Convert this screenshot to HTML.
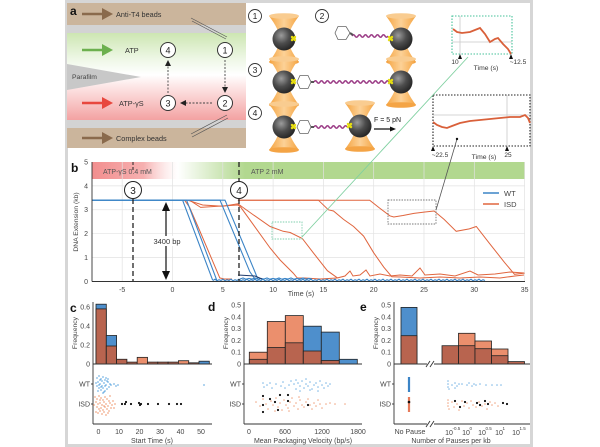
<!DOCTYPE html>
<html><head><meta charset="utf-8"><style>
html,body{margin:0;padding:0;background:#fff;}
svg{display:block;}
text{font-family:"Liberation Sans",Arial,sans-serif;}
</style></head><body>
<svg width="600" height="447" viewBox="0 0 600 447">
<defs>
<linearGradient id="mid" x1="0" y1="0" x2="0" y2="1">
<stop offset="0" stop-color="#cde6b2"/><stop offset="0.3" stop-color="#eef7e6"/><stop offset="0.48" stop-color="#ffffff"/><stop offset="0.6" stop-color="#fde9e9"/><stop offset="1" stop-color="#f3a2a2"/>
</linearGradient>
<linearGradient id="pinkb" gradientUnits="userSpaceOnUse" x1="92" x2="178" y1="0" y2="0">
<stop offset="0" stop-color="#f28e8e"/><stop offset="0.6" stop-color="#f6b0b0"/><stop offset="1" stop-color="#fbd8d8" stop-opacity="0"/>
</linearGradient>
<linearGradient id="greenb" gradientUnits="userSpaceOnUse" x1="178" x2="245" y1="0" y2="0">
<stop offset="0" stop-color="#b2d88f" stop-opacity="0"/><stop offset="1" stop-color="#b2d88f" stop-opacity="1"/>
</linearGradient>
<radialGradient id="bead" cx="0.38" cy="0.35" r="0.7">
<stop offset="0" stop-color="#9c9c9c"/><stop offset="0.5" stop-color="#4d4d4d"/><stop offset="1" stop-color="#222"/>
</radialGradient>
<linearGradient id="org" x1="0" x2="1" y1="0" y2="0">
<stop offset="0" stop-color="#f5a440"/><stop offset="0.5" stop-color="#fcd197"/><stop offset="1" stop-color="#f5a440"/>
</linearGradient>
<g id="trap">
<path d="M-15 -23 Q-5 -10 -4 0 Q-5 10 -15 23 L15 23 Q5 10 4 0 Q5 -10 15 -23 Z" fill="url(#org)"/>
<ellipse cx="0" cy="-23" rx="15" ry="2.8" fill="#f9cc90"/>
<ellipse cx="0" cy="23" rx="15" ry="2.8" fill="#f4a445"/>
<circle cx="0" cy="0" r="11.5" fill="url(#bead)"/>
</g>
</defs>

<!-- figure frame -->
<rect x="66.5" y="1.5" width="465" height="444" fill="none" stroke="#d6d6d6" stroke-width="3"/>

<!-- ===== Panel a left schematic ===== -->
<rect x="67" y="3" width="179" height="22" fill="#cbb59c"/>
<rect x="67" y="25" width="179" height="8" fill="#d3d3d3"/>
<rect x="67" y="33" width="179" height="87" fill="url(#mid)"/>
<rect x="67" y="120" width="179" height="8" fill="#d3d3d3"/>
<rect x="67" y="128" width="179" height="20" fill="#cbb59c"/>
<polygon points="67,64 141,77 67,90" fill="#c8c8c8"/>
<text x="72" y="79" font-size="6.8" fill="#444">Parafilm</text>
<text x="70" y="15" font-size="12" font-weight="bold" fill="#111">a</text>
<g stroke-width="2.4">
<line x1="82" y1="14" x2="105" y2="14" stroke="#8a6a4c"/>
<line x1="82" y1="50" x2="105" y2="50" stroke="#6cb04e"/>
<line x1="82" y1="103" x2="105" y2="103" stroke="#e8473e"/>
<line x1="82" y1="138" x2="105" y2="138" stroke="#8a6a4c"/>
</g>
<polygon points="102,8 113,14 102,20" fill="#8a6a4c"/>
<polygon points="102,44 113,50 102,56" fill="#6cb04e"/>
<polygon points="102,97 113,103 102,109" fill="#e8473e"/>
<polygon points="102,132 113,138 102,144" fill="#8a6a4c"/>
<text x="116" y="17" font-size="7.3" fill="#333">Anti-T4 beads</text>
<text x="125" y="53" font-size="7.3" fill="#333">ATP</text>
<text x="119" y="106" font-size="7.3" fill="#333">ATP-γS</text>
<text x="116" y="141" font-size="7.3" fill="#333">Complex beads</text>
<g stroke="#555" stroke-width="0.7">
<line x1="191" y1="18" x2="227" y2="37"/><line x1="192" y1="21" x2="226" y2="39"/>
<line x1="191" y1="134" x2="227" y2="115"/><line x1="192" y1="137" x2="228" y2="118"/>
</g>
<g fill="#fff" stroke="#333" stroke-width="1">
<circle cx="168" cy="50" r="7.5"/><circle cx="225" cy="50" r="7.5"/>
<circle cx="168" cy="103" r="7.5"/><circle cx="225" cy="103" r="7.5"/>
</g>
<g font-size="9" text-anchor="middle" fill="#222">
<text x="168" y="53.5">4</text><text x="225" y="53.5">1</text>
<text x="168" y="106.5">3</text><text x="225" y="106.5">2</text>
</g>
<g stroke="#444" stroke-width="0.9" stroke-dasharray="2,1.5">
<line x1="225" y1="60" x2="225" y2="88"/>
<line x1="212" y1="103" x2="186" y2="103"/>
<line x1="168" y1="93" x2="168" y2="66"/>
</g>
<polygon points="222,87 228,87 225,93" fill="#222"/>
<polygon points="186,100 186,106 180,103" fill="#222"/>
<polygon points="165,66 171,66 168,60" fill="#222"/>

<!-- ===== Panel a right schematic ===== -->
<use href="#trap" x="284" y="39"/>
<use href="#trap" x="401" y="39"/>
<use href="#trap" x="284" y="82"/>
<use href="#trap" x="401" y="82"/>
<use href="#trap" x="284" y="127"/>
<use href="#trap" x="360" y="126"/>
<g fill="none" stroke="#9b3c86" stroke-width="1.6">
<path d="M352 36 q1.5 -2.5 3 0 t3 0 t3 0 t3 0 t3 0 t3 0 t3 0 t3 0 t3 0 t3 0 t3 0 t3 0"/>
<path d="M314 82 q1.5 -2.5 3 0 t3 0 t3 0 t3 0 t3 0 t3 0 t3 0 t3 0 t3 0 t3 0 t3 0 t3 0 t3 0 t3 0 t3 0 t3 0 t3 0 t3 0 t3 0 t3 0 t3 0 t3 0 t3 0 t3 0 t3 0"/>
<path d="M314 127 q1.5 -2.5 3 0 t3 0 t3 0 t3 0 t3 0 t3 0 t3 0 t3 0 t3 0 t3 0 t3 0"/>
</g>
<g fill="#fff" stroke="#666" stroke-width="0.8">
<polygon points="335,33 338,26.5 346,26.5 350,33 346,39.5 338,39.5"/>
<polygon points="297,82 300,75.5 308,75.5 311,82 308,88.5 300,88.5"/>
<polygon points="297,127 300,120.5 308,120.5 311,127 308,133.5 300,133.5"/>
</g>
<g stroke="#555" stroke-width="2">
<line x1="350" y1="33" x2="353" y2="35"/><line x1="311" y1="82" x2="314" y2="82"/><line x1="311" y1="127" x2="314" y2="127"/>
</g>
<g stroke="#e6dd10" stroke-width="2.4" stroke-linecap="round">
<path d="M292 37l3 3M295 37l-3 3"/>
<path d="M389 37l3 3M392 37l-3 3"/>
<path d="M292 80l3 3M295 80l-3 3"/>
<path d="M389 80l3 3M392 80l-3 3"/>
<path d="M292 125l3 3M295 125l-3 3"/>
<path d="M348 124l3 3M351 124l-3 3"/>
</g>
<g fill="#fff" stroke="#333" stroke-width="0.9">
<circle cx="255" cy="16" r="6.5"/><circle cx="322" cy="16" r="6.5"/>
<circle cx="255" cy="70" r="6.5"/><circle cx="255" cy="113" r="6.5"/>
</g>
<g font-size="8.5" text-anchor="middle" fill="#222">
<text x="255" y="19">1</text><text x="322" y="19">2</text>
<text x="255" y="73">3</text><text x="255" y="116">4</text>
</g>
<text x="374" y="122" font-size="7" fill="#222">F = 5 pN</text>
<line x1="374" y1="129" x2="391" y2="129" stroke="#111" stroke-width="1.2"/>
<polygon points="390,126.5 396,129 390,131.5" fill="#111"/>

<!-- insets -->
<rect x="452" y="16" width="60" height="38" fill="none" stroke="#46c29a" stroke-width="1.1" stroke-dasharray="1.5,1.5"/>
<line x1="452" y1="42" x2="512" y2="42" stroke="#c8c8c8" stroke-width="0.8"/>
<line x1="460" y1="16" x2="460" y2="54" stroke="#c8c8c8" stroke-width="0.8"/>
<polyline points="453,29 457,32 462,33 470,32 480,28 485,34 490,42 495,39 498,38 503,44 508,49 511,54" fill="none" stroke="#d9603a" stroke-width="1.8"/>
<g fill="#111"><polygon points="458,59 462,59 460,54"/><polygon points="509,59 513,59 511,54"/></g>
<text x="455" y="64" font-size="6.5" text-anchor="middle" fill="#333">10</text>
<text x="518" y="64" font-size="6.5" text-anchor="middle" fill="#333">~12.5</text>
<text x="486" y="70" font-size="6.8" text-anchor="middle" fill="#333">Time (s)</text>

<rect x="433" y="95" width="97" height="51" fill="none" stroke="#222" stroke-width="1.1" stroke-dasharray="1.5,1.5"/>
<line x1="433" y1="115" x2="530" y2="115" stroke="#c8c8c8" stroke-width="0.8"/>
<line x1="507" y1="95" x2="507" y2="146" stroke="#c8c8c8" stroke-width="0.8"/>
<polyline points="433,122 437,125 442,127 447,128 452,126 460,123 470,121 480,120 490,119 500,118 510,117 520,117 525,115 528,118 530,123" fill="none" stroke="#d9603a" stroke-width="1.8"/>
<g fill="#111"><polygon points="431,151 435,151 433,146"/><polygon points="505,151 509,151 507,146"/></g>
<text x="440" y="157" font-size="6.5" text-anchor="middle" fill="#333">~22.5</text>
<text x="484" y="159" font-size="6.8" text-anchor="middle" fill="#333">Time (s)</text>
<text x="508" y="157" font-size="6.5" text-anchor="middle" fill="#333">25</text>

<!-- ===== Panel b ===== -->
<text x="71" y="172" font-size="12" font-weight="bold" fill="#111">b</text>
<rect x="92" y="162" width="86" height="17" fill="url(#pinkb)"/>
<rect x="178" y="162" width="67" height="17" fill="url(#greenb)"/>
<rect x="245" y="162" width="280" height="17" fill="#b2d88f"/>
<g stroke="#e2e2e2" stroke-width="0.7">
<line x1="122.2" y1="162" x2="122.2" y2="281.5"/><line x1="172.5" y1="162" x2="172.5" y2="281.5"/>
<line x1="222.8" y1="162" x2="222.8" y2="281.5"/><line x1="273.1" y1="162" x2="273.1" y2="281.5"/>
<line x1="323.4" y1="162" x2="323.4" y2="281.5"/><line x1="373.7" y1="162" x2="373.7" y2="281.5"/>
<line x1="424" y1="162" x2="424" y2="281.5"/><line x1="474.3" y1="162" x2="474.3" y2="281.5"/>
<line x1="524.6" y1="162" x2="524.6" y2="281.5"/>
<line x1="92" y1="257.6" x2="525" y2="257.6"/><line x1="92" y1="233.7" x2="525" y2="233.7"/>
<line x1="92" y1="209.8" x2="525" y2="209.8"/><line x1="92" y1="185.9" x2="525" y2="185.9"/>
</g>
<text x="103" y="174" font-size="7" fill="#555">ATP-γS 0.4 mM</text>
<text x="251" y="174" font-size="7" fill="#555">ATP 2 mM</text>

<g fill="none" stroke="#e0653e" stroke-width="1">
<polyline points="184.6,200.2 189.6,207.4 197.7,226 219.8,277.9 224,279 232,279"/>
<polyline points="189.6,200.2 200.7,207.4 217.8,206.2 237.9,205 240.9,207.4 270.1,248 280.1,260 293.2,273.1 297.2,277.9 305,278 320,279 337,278"/>
<polyline points="187.6,200.2 202.7,205 222.8,206.2 237.9,203.8 242.9,207.4 253,214.6 270.1,226.5 283.2,231.3 290.2,232.5 302.3,238.5 313.3,252.8 327.4,270.7 337.5,277.9 345,276 350,271 353,276 360,275 366,270 370,276 380,274 390,276 400,275 412,276 420,268 425,275 440,274 455,276 470,271 478,275 495,274 510,272 524,273"/>
<polyline points="237.9,200.2 318.4,200.2 328.4,209.8 333.5,211 343.5,219.4 353.6,226.5 363.6,236.1 373.7,252.8 383.8,267.2 391.8,276.7 400,277 420,278 440,277 460,278 480,277 500,278 515,276 524,275"/>
<polyline points="237.9,200.2 369.7,200.2 378.7,207.4 389.8,215.8 393.8,217 403,215.5 413.9,213.4 425,212 434.1,211 444.1,219.4 456.2,231.3 469.3,228.9 476.3,226.5 489.4,243.3 504.5,262.4 514.5,274.3 524.6,273.1"/>
</g>
<g fill="none" stroke="#3b84c6" stroke-width="1.1">
<polyline points="92,200.2 182.6,200.2 212.7,280.3"/>
<polyline points="92,200.2 186.6,200.2 216.8,280.3"/>
<polyline points="92,200.2 220,200.2 249.9,271.9 255,279.1"/>
<polyline points="92,200.2 225,200.2 255,272 258,279.6"/>
<path d="M213 280.5 l2 -1.3 l2 1.6 l2 -1.1 l2 0.8 l2 -1.3 l2 1.6 l2 -1.1 l2 0.8 l2 -1.3 l2 1.6 l2 -1.1 l2 0.8 l2 -1.3 l2 1.6 l2 -1.1 l2 0.8 l2 -1.3 l2 1.6 l2 -1.1 l2 0.8 l2 -1.3 l2 1.6 l2 -1.1 l2 0.8 l2 -1.3 l2 1.6 l2 -1.1 l2 0.8 l2 -1.3 l2 1.6 l2 -1.1 l2 0.8 l2 -1.3 l2 1.6 l2 -1.1 l2 0.8 l2 -1.3 l2 1.6 l2 -1.1 l2 0.8 l2 -1.3 l2 1.6 l2 -1.1 l2 0.8 l2 -1.3 l2 1.6 l2 -1.1 l2 0.8 l2 -1.3 l2 1.6 l2 -1.1 l2 0.8 l2 -1.3 l2 1.6 l2 -1.1 l2 0.8 l2 -1.3 l2 1.6 l2 -1.1 l2 0.8 l2 -1.3 l2 1.6 l2 -1.1 l2 0.8 l2 -1.3 l2 1.6 l2 -1.1 l2 0.8 l2 -1.3 l2 1.6 l2 -1.1 l2 0.8 l2 -1.3 l2 1.6 l2 -1.1 l2 0.8 l2 -1.3 l2 1.6 l2 -1.1 l2 0.8 l2 -1.3 l2 1.6 l2 -1.1 l2 0.8 l2 -1.3 l2 1.6 l2 -1.1 l2 0.8 l2 -1.3 l2 1.6 l2 -1.1 l2 0.8 l2 -1.3 l2 1.6 l2 -1.1 l2 0.8 l2 -1.3 l2 1.6 l2 -1.1 l2 0.8 l2 -1.3 l2 1.6 l2 -1.1 l2 0.8 l2 -1.3 l2 1.6 l2 -1.1 l2 0.8 l2 -1.3 l2 1.6 l2 -1.1 l2 0.8 l2 -1.3 l2 1.6 l2 -1.1 l2 0.8 l2 -1.3 l2 1.6 l2 -1.1 l2 0.8 l2 -1.3 l2 1.6 l2 -1.1 l2 0.8 l2 -1.3 l2 1.6 l2 -1.1 l2 0.8 l2 -1.3 l2 1.6 l2 -1.1 l2 0.8 l2 -1.3 l2 1.6 l2 -1.1 l2 0.8"/>
<path d="M240 279 l3 -1 l3 1.2 l3 -0.8 l3 0.6 l3 -1 l3 1.2 l3 -0.8 l3 0.6 l3 -1 l3 1.2 l3 -0.8 l3 0.6 l3 -1 l3 1.2 l3 -0.8 l3 0.6 l3 -1 l3 1.2 l3 -0.8 l3 0.6 l3 -1 l3 1.2 l3 -0.8 l3 0.6"/>
</g>
<polyline points="238,275 255,276 262,279" fill="none" stroke="#1f3a6c" stroke-width="1"/>

<g stroke="#222" stroke-width="1.3" stroke-dasharray="5,3">
<line x1="133" y1="199" x2="133" y2="281"/><line x1="239" y1="162" x2="239" y2="181"/><line x1="239" y1="199" x2="239" y2="281"/>
</g>
<line x1="133" y1="162" x2="133" y2="170" stroke="#222" stroke-width="1" stroke-dasharray="3,2"/>
<g fill="#fff" stroke="#222" stroke-width="1"><circle cx="133" cy="190" r="8.5"/><circle cx="239" cy="190" r="8.5"/></g>
<text x="133" y="194" font-size="10" text-anchor="middle" fill="#222">3</text>
<text x="239" y="194" font-size="10" text-anchor="middle" fill="#222">4</text>
<line x1="166" y1="208" x2="166" y2="274" stroke="#111" stroke-width="1.2"/>
<polygon points="166,202 162,211 170,211" fill="#111"/>
<polygon points="166,280 162,271 170,271" fill="#111"/>
<rect x="150" y="236" width="34" height="10" fill="#fff"/>
<text x="167" y="244" font-size="7.5" text-anchor="middle" fill="#333">3400 bp</text>
<rect x="272" y="222" width="30" height="17" fill="none" stroke="#7fcfae" stroke-width="0.9" stroke-dasharray="1.5,1.2"/>
<line x1="302" y1="237" x2="468" y2="57" stroke="#7fd0a0" stroke-width="0.9"/>
<rect x="388" y="200" width="48" height="24" fill="none" stroke="#777" stroke-width="0.9" stroke-dasharray="1.5,1.2"/>
<line x1="436" y1="210" x2="457" y2="139" stroke="#555" stroke-width="0.8"/>
<circle cx="457" cy="139" r="1.2" fill="#111"/>
<line x1="483" y1="193" x2="499" y2="193" stroke="#3b84c6" stroke-width="1.5"/>
<text x="504" y="196" font-size="7.5" fill="#444">WT</text>
<line x1="483" y1="204" x2="499" y2="204" stroke="#e0653e" stroke-width="1.5"/>
<text x="504" y="207" font-size="7.5" fill="#444">ISD</text>
<g stroke="#333" stroke-width="0.9">
<line x1="92" y1="162" x2="92" y2="281.5"/><line x1="92" y1="281.5" x2="525" y2="281.5"/>
</g>
<g font-size="7" fill="#444" text-anchor="end">
<text x="88" y="284">0</text><text x="88" y="260">1</text><text x="88" y="236">2</text>
<text x="88" y="212">3</text><text x="88" y="188.5">4</text><text x="88" y="164.5">5</text>
</g>
<g font-size="7" fill="#444" text-anchor="middle">
<text x="122.2" y="292">-5</text><text x="172.5" y="292">0</text><text x="222.8" y="292">5</text>
<text x="273.1" y="292">10</text><text x="323.4" y="292">15</text><text x="373.7" y="292">20</text>
<text x="424" y="292">25</text><text x="474.3" y="292">30</text><text x="524.6" y="292">35</text>
<text x="301" y="296" font-size="7.3">Time (s)</text>
</g>
<text transform="translate(78,222) rotate(-90)" font-size="6.8" text-anchor="middle" fill="#444">DNA Extension (kb)</text>

<!-- ===== Panel c ===== -->
<text x="70" y="312" font-size="12" font-weight="bold" fill="#111">c</text>
<g stroke="#222" stroke-width="0.8">
<rect x="96" y="304.2" width="10.3" height="59.8" fill="#4e8fcc"/><rect x="96" y="308.9" width="10.3" height="55.1" fill="#b8644f"/>
<rect x="106.3" y="335.5" width="10.3" height="28.5" fill="#4e8fcc"/><rect x="106.3" y="346" width="10.3" height="18" fill="#b8644f"/>
<rect x="116.6" y="359.25" width="10.3" height="4.75" fill="#b8644f"/>
<rect x="126.9" y="362.1" width="10.3" height="1.9" fill="#b8644f"/>
<rect x="137.2" y="357.35" width="10.3" height="6.65" fill="#eb8f6d"/>
<rect x="147.5" y="362.1" width="10.3" height="1.9" fill="#b8644f"/>
<rect x="157.8" y="362.1" width="10.3" height="1.9" fill="#b8644f"/>
<rect x="168.1" y="362.1" width="10.3" height="1.9" fill="#b8644f"/>
<rect x="178.4" y="360.7" width="10.3" height="3.3" fill="#eb8f6d"/>
<rect x="188.7" y="362.8" width="10.3" height="1.2" fill="#b8644f"/>
<rect x="199" y="361.2" width="10.3" height="2.8" fill="#4e8fcc"/>
</g>
<g stroke="#333" stroke-width="0.9">
<line x1="93" y1="302" x2="93" y2="424"/><line x1="93" y1="364" x2="212" y2="364"/><line x1="93" y1="424" x2="212" y2="424"/>
<line x1="91" y1="384" x2="93" y2="384"/><line x1="91" y1="404" x2="93" y2="404"/>
</g>
<g font-size="7" fill="#444" text-anchor="end">
<text x="90" y="366.5">0</text><text x="90" y="347.5">0.2</text><text x="90" y="328.5">0.4</text><text x="90" y="309.5">0.6</text>
<text x="90" y="386.5">WT</text><text x="90" y="406.5">ISD</text>
</g>
<g font-size="7" fill="#444" text-anchor="middle">
<text x="98.5" y="434">0</text><text x="119" y="434">10</text><text x="139.5" y="434">20</text>
<text x="160" y="434">30</text><text x="180.5" y="434">40</text><text x="201" y="434">50</text>
<text x="152" y="443">Start Time (s)</text>
</g>
<text transform="translate(77,333) rotate(-90)" font-size="6.8" text-anchor="middle" fill="#444">Frequency</text>
<path stroke="#72b2e4" stroke-width="1.7" stroke-linecap="round" fill="none" d="M97 378h0M99 376h0M101 379h0M103 377h0M105 380h0M98 382h0M100 384h0M102 386h0M104 383h0M106 385h0M108 382h0M99 388h0M101 390h0M103 388h0M105 391h0M107 389h0M97 386h0M109 387h0M102 381h0M104 392h0M100 380h0M106 378h0M98 391h0M103 393h0M110 384h0M96 383h0M101 387h0M105 386h0M107 381h0M99 385h0M108 379h0M111 385h0M114 384h0M116 386h0M118 385h0M204 385h0"/>
<path stroke="#f0a582" stroke-width="1.7" stroke-linecap="round" fill="none" d="M95 397h0M97 399h0M99 396h0M101 398h0M103 400h0M105 397h0M107 399h0M109 401h0M96 402h0M98 404h0M100 403h0M102 405h0M104 402h0M106 404h0M108 406h0M110 403h0M112 405h0M97 407h0M99 409h0M101 408h0M103 410h0M105 407h0M107 409h0M109 411h0M111 408h0M96 412h0M98 413h0M100 411h0M102 414h0M104 412h0M106 415h0M108 413h0M113 401h0M115 404h0M114 408h0M110 396h0M100 400h0M94 405h0M104 406h0"/>
<path stroke="#111" stroke-width="2.2" stroke-linecap="round" fill="none" d="M122 404h0M125 404h0M126 402h0M131 404h0M139 403h0M140 405h0M141 404h0M148 404h0M158 404h0M169 404h0M177 404h0M181 404h0"/>

<!-- ===== Panel d ===== -->
<text x="208" y="311" font-size="12" font-weight="bold" fill="#111">d</text>
<g stroke="#222" stroke-width="0.8">
<rect x="249.3" y="352.2" width="18" height="11.8" fill="#eb8f6d"/><rect x="249.3" y="359.3" width="18" height="4.7" fill="#b8644f"/>
<rect x="267.3" y="321.5" width="18" height="42.5" fill="#eb8f6d"/><rect x="267.3" y="347.5" width="18" height="16.5" fill="#b8644f"/>
<rect x="285.3" y="315.6" width="18" height="48.4" fill="#eb8f6d"/><rect x="285.3" y="342.8" width="18" height="21.2" fill="#b8644f"/>
<rect x="303.3" y="326.2" width="18" height="37.8" fill="#4e8fcc"/><rect x="303.3" y="351" width="18" height="13" fill="#b8644f"/>
<rect x="321.3" y="332.1" width="18" height="31.9" fill="#4e8fcc"/><rect x="321.3" y="360.5" width="18" height="3.5" fill="#b8644f"/>
<rect x="339.3" y="359.3" width="18" height="4.7" fill="#4e8fcc"/>
</g>
<g stroke="#333" stroke-width="0.9">
<line x1="244" y1="302" x2="244" y2="424"/><line x1="244" y1="364" x2="362" y2="364"/><line x1="244" y1="424" x2="362" y2="424"/>
<line x1="242" y1="384" x2="244" y2="384"/><line x1="242" y1="404" x2="244" y2="404"/>
</g>
<g font-size="7" fill="#444" text-anchor="end">
<text x="241" y="366.5">0</text><text x="241" y="354.7">0.1</text><text x="241" y="342.9">0.2</text>
<text x="241" y="331.1">0.3</text><text x="241" y="319.3">0.4</text><text x="241" y="307.5">0.5</text>
<text x="241" y="386.5">WT</text><text x="241" y="406.5">ISD</text>
</g>
<g font-size="7" fill="#444" text-anchor="middle">
<text x="249" y="434">0</text><text x="285" y="434">600</text><text x="322" y="434">1200</text><text x="358" y="434">1800</text>
<text x="303" y="443">Mean Packaging Velocity (bp/s)</text>
</g>
<text transform="translate(228,333) rotate(-90)" font-size="6.8" text-anchor="middle" fill="#444">Frequency</text>
<path stroke="#72b2e4" stroke-width="1.5" stroke-linecap="round" fill="none" d="M263 383h0M264 387h0M267 385h0M270 383h0M272 388h0M276 384h0M281 386h0M283 382h0M285 388h0M289 385h0M291 381h0M294 384h0M296 389h0M298 383h0M300 386h0M302 381h0M304 388h0M306 384h0M308 386h0M310 382h0M312 389h0M314 385h0M316 383h0M318 387h0M320 381h0M322 385h0M324 388h0M326 383h0M328 386h0M330 384h0M300 391h0M310 390h0M318 391h0M296 380h0M306 379h0"/>
<path stroke="#f0a582" stroke-width="1.6" stroke-linecap="round" fill="none" d="M256 402h0M260 406h0M263 399h0M266 404h0M268 409h0M271 401h0M273 405h0M276 398h0M278 407h0M280 403h0M282 410h0M284 400h0M286 405h0M288 408h0M290 402h0M292 398h0M294 406h0M296 403h0M298 409h0M300 400h0M302 405h0M304 407h0M306 402h0M308 399h0M310 405h0M312 409h0M314 403h0M316 406h0M318 400h0M320 404h0M322 408h0M326 404h0M330 403h0M335 404h0M345 404h0M275 411h0M289 411h0M299 397h0"/>
<path stroke="#111" stroke-width="2.2" stroke-linecap="round" fill="none" d="M263 396h0M263 405h0M263 412h0M270 399h0M275 402h0M278 410h0M280 395h0M288 395h0M288 401h0M308 405h0"/>

<!-- ===== Panel e ===== -->
<text x="360" y="311" font-size="12" font-weight="bold" fill="#111">e</text>
<g stroke="#222" stroke-width="0.8">
<rect x="401" y="307.4" width="16" height="56.6" fill="#4e8fcc"/><rect x="401" y="335.7" width="16" height="28.3" fill="#b8644f"/>
<rect x="442" y="345.7" width="16.5" height="18.3" fill="#b8644f"/>
<rect x="458.5" y="333.3" width="16.5" height="30.7" fill="#eb8f6d"/><rect x="458.5" y="345.7" width="16.5" height="18.3" fill="#b8644f"/>
<rect x="475" y="341" width="16.5" height="23" fill="#eb8f6d"/><rect x="475" y="348.7" width="16.5" height="15.3" fill="#b8644f"/>
<rect x="491.5" y="349" width="16.5" height="15" fill="#eb8f6d"/><rect x="491.5" y="355.7" width="16.5" height="8.3" fill="#b8644f"/>
<rect x="508" y="361.6" width="16.5" height="2.4" fill="#b8644f"/>
</g>
<g stroke="#333" stroke-width="0.9">
<line x1="394" y1="302" x2="394" y2="424"/>
<line x1="394" y1="364" x2="427" y2="364"/><line x1="434" y1="364" x2="530" y2="364"/>
<line x1="394" y1="424" x2="427" y2="424"/><line x1="434" y1="424" x2="530" y2="424"/>
<line x1="392" y1="384" x2="394" y2="384"/><line x1="392" y1="404" x2="394" y2="404"/>
<line x1="426" y1="367" x2="430" y2="361"/><line x1="430" y1="367" x2="434" y2="361"/>
<line x1="426" y1="427" x2="430" y2="421"/><line x1="430" y1="427" x2="434" y2="421"/>
</g>
<g font-size="7" fill="#444" text-anchor="end">
<text x="391" y="366.5">0</text><text x="391" y="354.7">0.1</text><text x="391" y="342.9">0.2</text>
<text x="391" y="331.1">0.3</text><text x="391" y="319.3">0.4</text><text x="391" y="307.5">0.5</text>
<text x="391" y="386.5">WT</text><text x="391" y="406.5">ISD</text>
</g>
<g font-size="7" fill="#444" text-anchor="middle">
<text x="410" y="434">No Pause</text>
<text x="449" y="435">10</text><text x="466" y="435">10</text><text x="482" y="435">10</text><text x="499" y="435">10</text><text x="516" y="435">10</text>
<text x="451" y="443">Number of Pauses per kb</text>
</g>
<g font-size="4.5" fill="#444">
<text x="452.5" y="430">-0.5</text><text x="469.5" y="430">0</text><text x="485.5" y="430">0.5</text><text x="502.5" y="430">1</text><text x="519.5" y="430">1.5</text>
</g>
<text transform="translate(378,333) rotate(-90)" font-size="6.8" text-anchor="middle" fill="#444">Frequency</text>
<line x1="409" y1="377" x2="409" y2="392" stroke="#3b84c6" stroke-width="2.2"/>
<line x1="409" y1="397" x2="409" y2="412" stroke="#e67a5a" stroke-width="2.2"/>
<circle cx="409" cy="402" r="1.3" fill="#111"/>
<path stroke="#72b2e4" stroke-width="1.5" stroke-linecap="round" fill="none" d="M448 381h0M448 384h0M448 387h0M449 389h0M452 385h0M455 383h0M457 386h0M459 384h0M462 384h0M467 385h0M469 383h0M472 386h0M474 384h0M476 385h0M480 384h0M486 385h0M492 385h0M497 385h0M455 388h0M501 385h0"/>
<path stroke="#f0a582" stroke-width="1.6" stroke-linecap="round" fill="none" d="M448 400h0M448 403h0M448 406h0M449 409h0M452 402h0M454 407h0M457 404h0M459 410h0M462 401h0M464 406h0M467 403h0M469 408h0M471 401h0M473 405h0M476 407h0M479 402h0M482 406h0M485 404h0M487 409h0M490 402h0M492 405h0M495 403h0M498 406h0"/>
<path stroke="#111" stroke-width="2.2" stroke-linecap="round" fill="none" d="M455 401h0M460 407h0M465 402h0M477 403h0M480 405h0M485 401h0M488 404h0M503 403h0M507 404h0"/>
</svg>
</body></html>
